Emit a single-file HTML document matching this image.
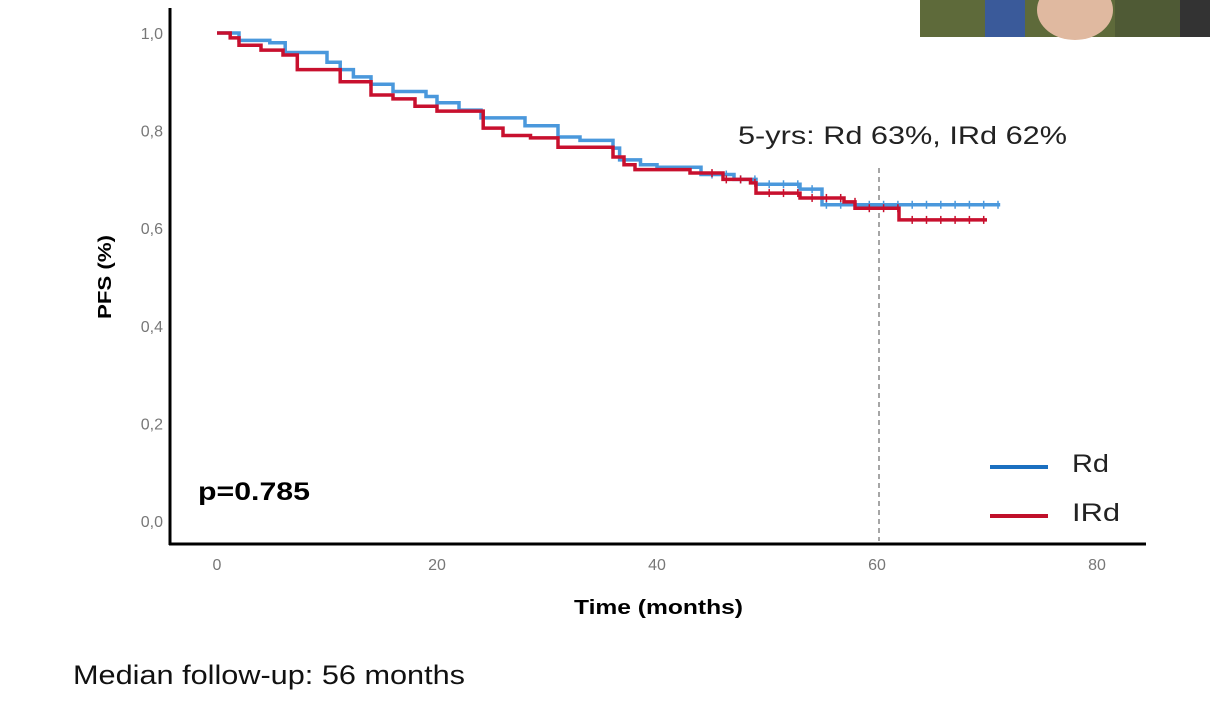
<!DOCTYPE html>
<html><head><meta charset="utf-8"><style>
body{margin:0;background:#fff;width:1210px;height:715px;overflow:hidden;font-family:"Liberation Sans",sans-serif}
</style></head><body>
<svg id="chart" width="1210" height="715" xmlns="http://www.w3.org/2000/svg" font-family="Liberation Sans, sans-serif">
<g>
<rect x="920" y="0" width="290" height="37" fill="#5e6a3a"/>
<rect x="985" y="0" width="40" height="37" fill="#3a5a9a"/>
<ellipse cx="1075" cy="10" rx="38" ry="30" fill="#e0b9a0"/>
<rect x="1115" y="0" width="95" height="37" fill="#4f5a35"/>
<rect x="1180" y="0" width="30" height="37" fill="#333"/>
</g>
<line x1="170" y1="8" x2="170" y2="545" stroke="#000" stroke-width="3"/>
<line x1="169" y1="544" x2="1146" y2="544" stroke="#000" stroke-width="3"/>
<g id="yticks"></g>
<g id="xticks"></g>
<text transform="translate(111,277) rotate(-90)" text-anchor="middle" font-size="18" font-weight="bold" textLength="84" lengthAdjust="spacingAndGlyphs">PFS (%)</text>
<text x="574" y="614" font-size="20" font-weight="bold" textLength="169" lengthAdjust="spacingAndGlyphs">Time (months)</text>
<line x1="879" y1="168" x2="879" y2="541" stroke="#888" stroke-width="1.5" stroke-dasharray="5,4"/>
<g id="series"></g>
<text x="738" y="144" font-size="25" fill="#222" textLength="329" lengthAdjust="spacingAndGlyphs">5-yrs: Rd 63%, IRd 62%</text>
<text x="198" y="500" font-size="25" font-weight="bold" textLength="112" lengthAdjust="spacingAndGlyphs">p=0.785</text>
<g>
<line x1="990" y1="467" x2="1048" y2="467" stroke="#1a6fc0" stroke-width="4"/>
<text x="1072" y="472" font-size="25" fill="#222" textLength="37" lengthAdjust="spacingAndGlyphs">Rd</text>
<line x1="990" y1="516" x2="1048" y2="516" stroke="#c0102a" stroke-width="4"/>
<text x="1072" y="521" font-size="25" fill="#222" textLength="48" lengthAdjust="spacingAndGlyphs">IRd</text>
</g>
<text x="73" y="684" font-size="27" fill="#111" textLength="392" lengthAdjust="spacingAndGlyphs">Median follow-up: 56 months</text>
</svg>
<script>
const yTicks=[0,0.2,0.4,0.6,0.8,1.0];
const yTickLabels=["0,0","0,2","0,4","0,6","0,8","1,0"];
const xTicks=[0,20,40,60,80];
const rdTimes=[0,2,4.8,6.2,10,11.2,12.4,14,16,19,20,22,24,28,31,33,36,36.6,38.5,40,44,47,49,53,55,62,71.2];
const rdValues=[1.0,0.985,0.98,0.96,0.94,0.925,0.91,0.895,0.88,0.87,0.857,0.842,0.826,0.81,0.787,0.78,0.764,0.74,0.73,0.725,0.71,0.70,0.69,0.68,0.648,0.648,0.648];
const irdTimes=[0,1.2,2,4,6,7.3,11.2,14,16,18,20,24.2,26,28.5,31,36,37,38,43,46,48.5,49,53,57,58,62,70];
const irdValues=[1.0,0.99,0.975,0.965,0.955,0.925,0.9,0.873,0.865,0.85,0.84,0.805,0.79,0.785,0.766,0.746,0.73,0.72,0.713,0.70,0.693,0.672,0.662,0.654,0.641,0.617,0.617];
const censorStart=45;
const X=m=>217+11*m, Y=v=>521-488*v;
const NS="http://www.w3.org/2000/svg";
function mk(t,a){const e=document.createElementNS(NS,t);for(const k in a)e.setAttribute(k,a[k]);return e;}
const yg=document.getElementById('yticks');
yTicks.forEach((v,i)=>{const t=mk('text',{x:163,y:Y(v)+6,'text-anchor':'end','font-size':16,fill:'#777'});


t.textContent=yTickLabels[i];yg.appendChild(t);});
const xg=document.getElementById('xticks');
xTicks.forEach(m=>{const t=mk('text',{x:X(m),y:570,'text-anchor':'middle','font-size':16,fill:'#777'});


t.textContent=m;xg.appendChild(t);});
const sg=document.getElementById('series');
function draw(ts,vs,col,name){
let d=`M${X(ts[0])},${Y(vs[0])}`;
for(let i=1;i<ts.length;i++){d+=`H${X(ts[i])}V${Y(vs[i])}`;}
const p=mk('path',{d:d,fill:'none',stroke:col,'stroke-width':3.5});


sg.appendChild(p);
const last=ts[ts.length-1];
for(let m=censorStart;m<=last;m+=1.3){let v=vs[0];for(let i=0;i<ts.length;i++)if(ts[i]<=m)v=vs[i];
const c=mk('line',{x1:X(m),x2:X(m),y1:Y(v)-4,y2:Y(v)+4,stroke:col,'stroke-width':1.5});


sg.appendChild(c);}
}
draw(rdTimes,rdValues,'#4a98dc','rd');
draw(irdTimes,irdValues,'#c8102e','ird');
</script>
</body></html>
